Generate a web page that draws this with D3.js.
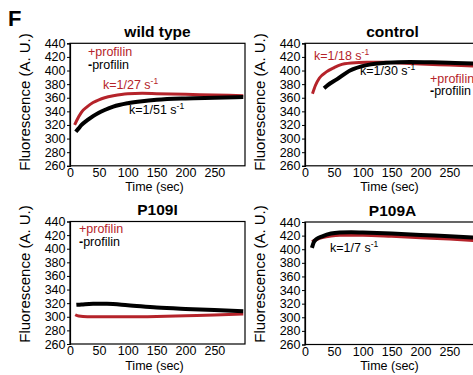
<!DOCTYPE html>
<html lang="en">
<head>
<meta charset="UTF-8">
<title>Fluorescence panels</title>
<style>
  body { margin: 0; background: #fff; }
  text { font-family: "Liberation Sans", Arial, Helvetica, sans-serif; }
</style>
</head>
<body>
<svg width="473" height="375"></svg>
<script src="https://cdn.jsdelivr.net/npm/d3@7"></script>
<script>
(function () {
  'use strict';

  // ---- data: [time (sec), fluorescence (A.U.)]
  var titles = ["wild type", "control", "P109I", "P109A"];
  var yTicks = [260, 280, 300, 320, 340, 360, 380, 400, 420, 440];
  var xTicks = [0, 50, 100, 150, 200, 250];

  var wtPlus  = [[8,320],[15,332],[20,339],[30,347],[40,353],[50,357],[60,360],[75,363],[100,366],[125,366.5],[150,366],[200,365],[250,364],[300,363]];
  var wtMinus = [[10,310],[15,315],[20,320],[30,327],[40,333],[50,338],[60,342],[75,347],[100,352],[125,355],[150,357],[200,359],[250,360],[300,361]];

  var ctlPlus  = [[13,366],[18,378],[25,389],[37,398],[50,404],[60,408],[80,411],[107,412],[140,412],[165,411],[200,409.5],[250,408],[300,406.5]];
  var ctlMinus = [[33,374],[40,379],[55,387],[78,400],[107,408],[141,411.5],[182,412.5],[220,412],[260,411],[300,410]];

  var p109iPlus  = [[9,303],[15,301],[30,300],[60,300],[100,300],[150,300.5],[200,301.5],[250,302.5],[300,304]];
  var p109iMinus = [[11,317.5],[20,318],[40,319],[64,319],[100,317],[150,313.5],[200,311.5],[250,310],[300,308]];

  var p109aPlus  = [[12,411],[20,414],[30,417],[45,419.5],[60,420.5],[100,420.5],[150,419],[200,417],[250,415],[300,412.5]];
  var p109aMinus = [[12,402],[15,410],[20,415],[30,419],[45,423],[60,424.5],[80,425],[100,424.5],[150,423],[200,421],[250,419],[300,417]];

  var plusSeries  = [wtPlus, ctlPlus, p109iPlus, p109aPlus];
  var minusSeries = [wtMinus, ctlMinus, p109iMinus, p109aMinus];

  // ---- layout
  var RED = "#b5232a";
  var W = 175, H = 122.5;
  var origins = [[70, 43.3], [305, 43.3], [70, 221.5], [305, 222]];
  var yLabelMid = [102, 102, 274, 274];

  // annotations: [text, superscript, colour, dx, dy] relative to plot corner
  var notes = [
    [["+profilin", null, RED, 18, 12.7], ["-profilin", null, "#000", 18, 25.7],
     ["k=1/27 s", "-1", RED, 33, 45.7], ["k=1/51 s", "-1", "#000", 59, 70.7]],
    [["k=1/18 s", "-1", RED, 9, 16.7], ["k=1/30 s", "-1", "#000", 55, 32],
     ["+profilin", null, RED, 125, 39.4], ["-profilin", null, "#000", 125, 52]],
    [["+profilin", null, RED, 9, 11.8], ["-profilin", null, "#000", 9, 24.3]],
    [["k=1/7 s", "-1", "#000", 25, 29.7]]
  ];

  var svg = d3.select("svg");

  svg.append("text")
    .attr("x", 8).attr("y", 26)
    .attr("font-size", 22).attr("font-weight", "bold")
    .text("F");

  var x = d3.scaleLinear().domain([0, 303]).range([0, W]);
  var y = d3.scaleLinear().domain([260, 440]).range([H, 0]);

  var line = d3.line()
    .x(function (d) { return x(d[0]); })
    .y(function (d) { return y(d[1]); })
    .curve(d3.curveMonotoneX);

  titles.forEach(function (title, i) {
    var g = svg.append("g")
      .attr("transform", "translate(" + origins[i][0] + "," + origins[i][1] + ")");

    // curves (clipped to the plot)
    var clipId = "clip" + i;
    g.append("clipPath").attr("id", clipId)
      .append("rect").attr("width", W).attr("height", H);
    var plot = g.append("g").attr("clip-path", "url(#" + clipId + ")");

    plot.append("path")
      .datum(plusSeries[i])
      .attr("d", line)
      .attr("fill", "none")
      .attr("stroke", RED)
      .attr("stroke-width", 3);

    plot.append("path")
      .datum(minusSeries[i])
      .attr("d", line)
      .attr("fill", "none")
      .attr("stroke", "#000")
      .attr("stroke-width", 4);

    // frame
    g.append("rect")
      .attr("width", W).attr("height", H)
      .attr("fill", "none")
      .attr("stroke", "#000")
      .attr("stroke-width", 1.2);

    // y axis
    var ya = g.append("g")
      .call(d3.axisLeft(y).tickValues(yTicks).tickSize(3).tickPadding(1.5));
    ya.select(".domain").attr("stroke-width", 1.2);
    ya.selectAll("text")
      .attr("font-size", 12.5)
      .attr("font-family", "Liberation Sans, Arial, sans-serif")
      .attr("fill", "#000");

    // x axis
    var xa = g.append("g")
      .attr("transform", "translate(0," + H + ")")
      .call(d3.axisBottom(x).tickValues(xTicks).tickSize(0).tickPadding(2.5));
    xa.select(".domain").remove();
    xa.selectAll("text")
      .attr("font-size", 12.5)
      .attr("font-family", "Liberation Sans, Arial, sans-serif")
      .attr("fill", "#000");

    g.append("text")
      .attr("x", W / 2 - 3).attr("y", H + 25.5)
      .attr("text-anchor", "middle")
      .attr("font-size", 12.5)
      .text("Time (sec)");

    g.append("text")
      .attr("transform", "translate(" + (-40) + "," + (yLabelMid[i] - origins[i][1]) + ") rotate(-90)")
      .attr("text-anchor", "middle")
      .attr("font-size", 15)
      .text("Fluorescence (A. U.)");

    g.append("text")
      .attr("x", W / 2).attr("y", -6.3)
      .attr("text-anchor", "middle")
      .attr("font-size", 15.5)
      .attr("font-weight", "bold")
      .text(title);

    notes[i].forEach(function (n) {
      var t = g.append("text")
        .attr("x", n[3]).attr("y", n[4])
        .attr("font-size", 12.5)
        .attr("fill", n[2]);
      if (n[0].charAt(0) === "-") {
        t.append("tspan").attr("font-weight", "bold").text("-");
        t.append("tspan").text(n[0].slice(1));
      } else {
        t.append("tspan").text(n[0]);
      }
      if (n[1]) {
        t.append("tspan").attr("font-size", 8.5).attr("dy", -5).text(n[1]);
      }
    });
  });
})();
</script>
</body>
</html>
